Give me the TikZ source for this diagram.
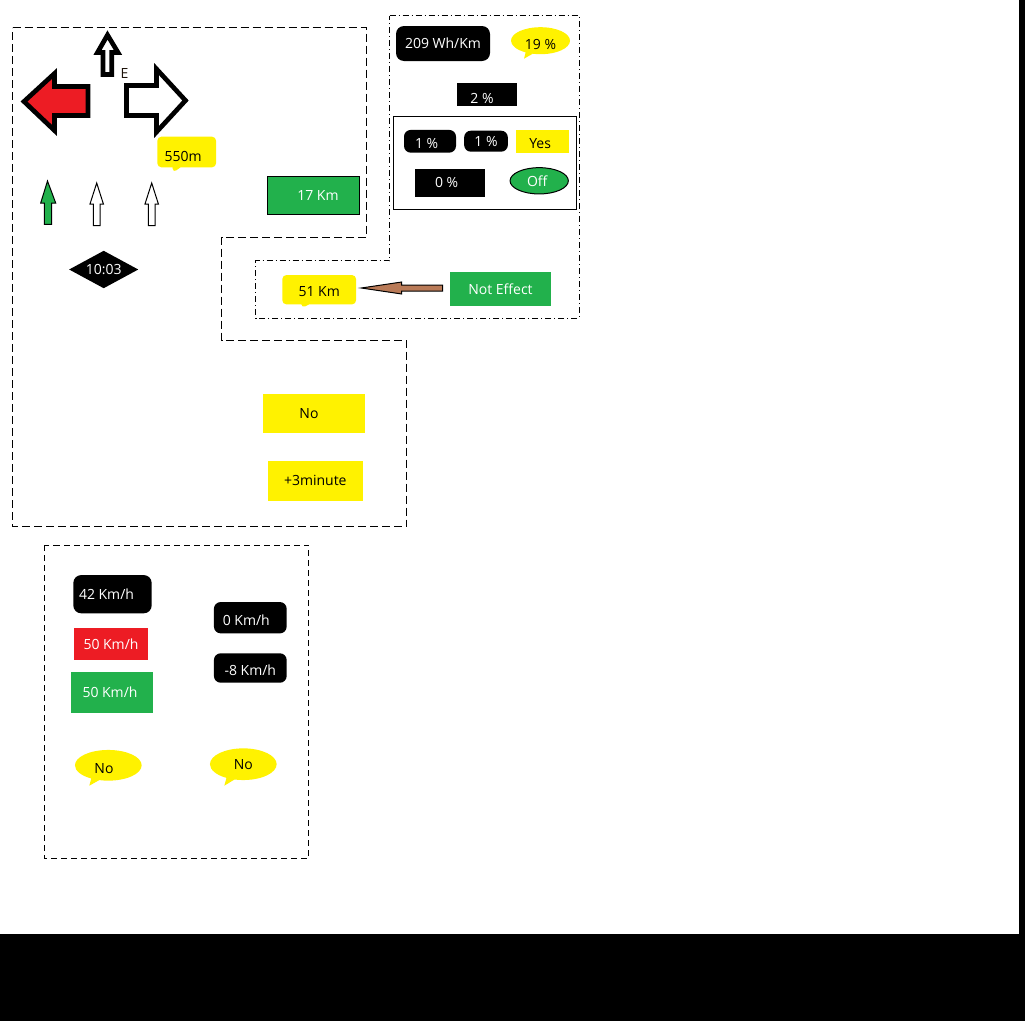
\documentclass[tikz,border=0pt]{standalone}
\usepackage{fontspec}
\setmainfont{Open Sans}
\usetikzlibrary{shapes.geometric,shapes.callouts,calc}
\definecolor{pgreen}{HTML}{22B14C}
\definecolor{pred}{HTML}{ED1C24}
\definecolor{pyellow}{HTML}{FFF200}
\definecolor{pbrown}{HTML}{B97A57}
\begin{document}
\begin{tikzpicture}[x=0.75pt,y=-0.75pt,
 lbl/.style={inner sep=0pt, font=\fontsize{10.5pt}{12pt}\selectfont},
 sz/.style 2 args={minimum width=#1*0.75pt, minimum height=#2*0.75pt},
 low/.style={text height=#1, text depth=0pt},
 blackbox/.style={lbl, fill=black, text=white, rectangle},
 roundblack/.style={blackbox, rounded corners=5pt},
 yellowbox/.style={lbl, fill=pyellow, text=black},
 greenbox/.style={lbl, fill=pgreen, text=white},
 ycallout/.style={lbl, rectangle callout, fill=pyellow, rounded corners=3pt, callout pointer width=6pt},
 yellipse/.style={lbl, ellipse callout, fill=pyellow},
 bigarrow/.style={line width=3.5pt, draw=black, line join=miter, miter limit=10},
 smallarrow/.style={line width=0.75pt, draw=black},
 framedash/.style={line width=0.75pt, dash pattern=on 6pt off 3pt},
 framedot/.style={line width=0.75pt, dash pattern=on 4.5pt off 2.25pt on 0.75pt off 2.25pt},
 framebot/.style={line width=0.75pt, dash pattern=on 4.5pt off 3pt},
 brownarrow/.style={line width=0.75pt, draw=black, fill=pbrown}
]
\useasboundingbox (0,0) rectangle (1025,1021);
\fill[black] (0,0) rectangle (1025,1021);
\fill[white] (0,0) rectangle (1019,934);

% frames
\draw[framedash] (12.5,27.5) -- (366.5,27.5) -- (366.5,237) -- (221.5,237) -- (221.5,340) -- (406.5,340) -- (406.5,526.5) -- (12.5,526.5) -- cycle;
\draw[framedot] (389.5,15.5) -- (579,15.5) -- (579,318) -- (255.5,318) -- (255.5,260.5) -- (389.5,260.5) -- cycle;
\draw[framebot] (44.5,545) rectangle (308.5,858.5);
\draw[line width=0.75pt] (393.5,116.5) rectangle (576.5,209.5);

% direction arrows
\draw[bigarrow, fill=white] (107.5,35) -- (97.5,52.5) -- (103,52.5) -- (103,74.5) -- (111.7,74.5) -- (111.7,52.5) -- (118,52.5) -- cycle;
\draw[bigarrow, fill=pred] (24,101.5) -- (54.5,73.5) -- (54.5,86.5) -- (88,86.5) -- (88,115.5) -- (54.5,115.5) -- (54.5,130.5) -- cycle;
\draw[bigarrow, fill=white] (126.5,85.5) -- (156.5,85.5) -- (156.5,69) -- (185.5,100.5) -- (156.5,132) -- (156.5,115.5) -- (126.5,115.5) -- cycle;
\node[lbl, text=black!85!brown] (elbl) at (124.5,74) {E};

% lane arrows
\draw[smallarrow, fill=pgreen] (47.5,181) -- (55.7,203) -- (51.7,203) -- (51.7,224.3) -- (44.3,224.3) -- (44.3,203) -- (40.7,203) -- cycle;
\foreach \cx in {96.7,151.7}
  \draw[smallarrow, fill=white] (\cx,183) -- (\cx+6.7,204) -- (\cx+3.3,204) -- (\cx+3.3,225.7) -- (\cx-3.3,225.7) -- (\cx-3.3,204) -- (\cx-6.7,204) -- cycle;

% left region nodes
\node[ycallout, low=13.5pt, sz={58.7}{30.6}, callout absolute pointer={(173,172.7)}] (m550) at (186.7,152) {550m\hspace*{5.5pt}};
\node[greenbox, draw=black, line width=0.75pt, sz={92}{38.3}] (k17) at (313.3,195.2) {\hspace*{7pt}17 Km};
\node[blackbox, diamond, shape aspect=1.85, sz={69.3}{37.6}] (t1003) at (103.7,269.5) {10:03};
\node[yellowbox, sz={101.4}{38.7}] (no1) at (314,413.3) {No\hspace*{7.5pt}};
\node[yellowbox, sz={94.7}{39.7}] (min3) at (315.3,480.8) {+3minute};

% right region nodes
\node[roundblack, rounded corners=6pt, sz={94}{35}] (wh) at (443,43.5) {209 Wh/Km};
\node[yellipse, low=12.5pt, sz={59}{27}, callout absolute pointer={(524,58.7)}] (p19) at (540.5,40.7) {19 \%};
\node[blackbox, low=13.1pt, sz={59.4}{23.3}] (p2) at (487,94.3) {2 \%\hspace*{7.5pt}};
\node[roundblack, low=10.5pt, sz={52}{22.7}] (p1a) at (430,141.3) {1 \%\hspace*{5pt}};
\node[roundblack, sz={43.7}{21}] (p1b) at (486,141.2) {1 \%};
\node[yellowbox, low=11.5pt, sz={53}{22.7}] (yes) at (542.5,141.3) {Yes\hspace*{3.5pt}};
\node[blackbox, sz={70}{27.7}] (p0) at (450,182.8) {0 \%\hspace*{5pt}};
\node[greenbox, ellipse, draw=black, line width=0.75pt, sz={58.3}{26.3}] (off) at (539.2,180.8) {Off\hspace*{3pt}};
\node[greenbox, sz={101}{33.4}] (ne) at (500.5,289) {Not Effect};
\node[ycallout, low=10.5pt, sz={73.7}{29.3}, callout absolute pointer={(301.7,308)}] (k51) at (319.2,289.7) {51 Km};

% brown arrow from Not Effect to 51 Km
\coordinate (bs) at ($(ne.west)+(-7,-1)$);
\coordinate (bt) at ($(k51.east)+(5,-1.7)$);
\draw[brownarrow] ($(bs)+(0,-3)$) -- ($(bs)+(-41,-3)$) -- ($(bs)+(-41,-6)$) -- (bt) -- ($(bs)+(-41,6)$) -- ($(bs)+(-41,3)$) -- ($(bs)+(0,3)$) -- cycle;

% bottom region nodes
\node[roundblack, rounded corners=6pt, sz={78.4}{38.3}] (s42) at (112.5,594.2) {42 Km/h\hspace*{9pt}};
\node[lbl, fill=pred, text=white, sz={74}{31.7}] (r50) at (111,643.8) {50 Km/h};
\node[greenbox, sz={82}{40.7}] (g50) at (112,692.3) {50 Km/h\hspace*{3pt}};
\node[roundblack, low=12pt, sz={72.7}{31.3}] (s0) at (250.3,617.7) {0 Km/h\hspace*{6pt}};
\node[roundblack, low=10.5pt, sz={72.7}{29.4}] (sm8) at (250.3,668) {-8 Km/h};
\node[yellipse, low=12pt, sz={66.7}{30.7}, callout absolute pointer={(89.3,785.7)}] (noL) at (108.3,765.3) {No\hspace*{6.5pt}};
\node[yellipse, sz={66.7}{31.7}, callout absolute pointer={(224.3,785.7)}] (noR) at (243.3,764.2) {No};
\end{tikzpicture}
\end{document}
